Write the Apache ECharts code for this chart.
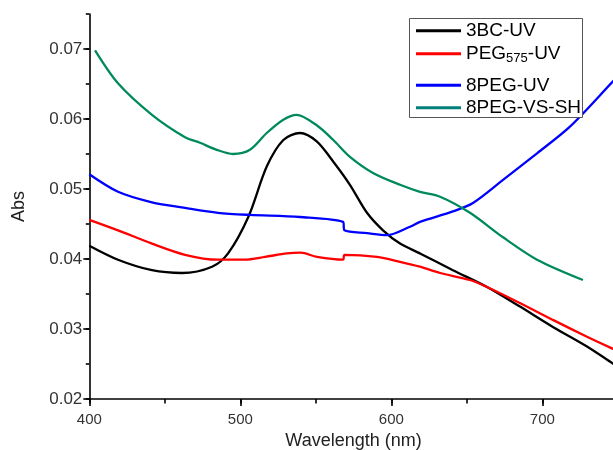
<!DOCTYPE html>
<html>
<head>
<meta charset="utf-8">
<script src="https://cdn.jsdelivr.net/npm/echarts@6/dist/echarts.min.js"></script>
<style>
html,body{margin:0;padding:0;background:#fff;}
#chart{width:613px;height:450px;}
</style>
</head>
<body>
<div id="chart"></div>
<script>
// ---- data ----
const seriesNames = ['3BC-UV', 'PEG575-UV', '8PEG-UV', '8PEG-VS-SH'];

const wl3BC  = [400, 419, 441.5, 461.4, 481.3, 491.9, 505.3, 517.5, 528.5, 539.5, 550.6, 561.6, 572.6, 583.9, 594.5, 605.8, 619, 640.8, 663.4, 685.2, 707, 729.6, 746.5, 750];
const abs3BC = [0.0419, 0.0399, 0.0384, 0.0380, 0.0389, 0.0408, 0.0460, 0.0532, 0.0570, 0.0580, 0.0568, 0.0539, 0.0506, 0.0466, 0.0441, 0.0422, 0.0408, 0.0384, 0.0360, 0.0332, 0.0303, 0.0275, 0.0251, 0.0246];

const wlPEG  = [400, 419, 441.5, 463.4, 485.2, 503.1, 516.4, 530.9, 540, 550.8, 568, 569, 590.5, 605.8, 619, 632.3, 652.1, 663.4, 685.2, 707, 729.6, 746.5, 750];
const absPEG = [0.0456, 0.0441, 0.0422, 0.0406, 0.0399, 0.0399, 0.0403, 0.0408, 0.0409, 0.0403, 0.0399, 0.0406, 0.0403, 0.0396, 0.0389, 0.0380, 0.0370, 0.0360, 0.0337, 0.0313, 0.0289, 0.0272, 0.0269];

const wl8PEG  = [400, 419, 441.5, 463.4, 485.2, 506.4, 539.5, 568, 569, 583.9, 597.1, 612.4, 619, 640.8, 654.1, 674, 696.5, 718.3, 746.5, 750];
const abs8PEG = [0.0521, 0.0496, 0.0481, 0.0473, 0.0466, 0.0463, 0.0460, 0.0453, 0.0441, 0.0437, 0.0434, 0.0446, 0.0453, 0.0468, 0.0480, 0.0513, 0.0551, 0.0589, 0.0653, 0.0661];

const wlVS  = [403.8, 419, 441.5, 463.4, 473.3, 484.4, 495.2, 506.4, 517.5, 528.5, 537.3, 550.6, 561.6, 572.6, 587.9, 605.8, 619, 632.3, 652.1, 674, 696.5, 726.9];
const absVS = [0.0698, 0.0651, 0.0606, 0.0574, 0.0566, 0.0556, 0.0550, 0.0556, 0.0580, 0.0599, 0.0606, 0.0591, 0.0570, 0.0546, 0.0523, 0.0506, 0.0496, 0.0489, 0.0466, 0.0431, 0.0399, 0.0370];

const xTicks = [400, 500, 600, 700];
const yTicks = [0.02, 0.03, 0.04, 0.05, 0.06, 0.07];

// ---- chart ----
const FONT = '"Liberation Sans", Arial, sans-serif';
const zip = (xs, ys) => xs.map((x, i) => [x, ys[i]]);
const colors = ['#000000', '#ff0000', '#0000ff', '#008a5c'];
const seriesData = [zip(wl3BC, abs3BC), zip(wlPEG, absPEG), zip(wl8PEG, abs8PEG), zip(wlVS, absVS)];

const chart = echarts.init(document.getElementById('chart'), null, {renderer: 'canvas'});

const legendTop = [21.2, 44.3, 75.8, 98.2];
const legends = seriesNames.map((n, i) => ({
  show: true,
  data: [i === 3 ? {name: n, itemStyle: {color: '#00807a'}} : n],
  left: 416,
  top: legendTop[i],
  padding: 0,
  itemWidth: 45,
  itemHeight: 3,
  icon: 'rect',
  selectedMode: false,
  zlevel: 1,
  z: 20,
  formatter: function (name) {
    if (name === 'PEG575-UV') return '{n|PEG}{s|575}{n|-UV}';
    return name;
  },
  textStyle: {
    fontFamily: FONT, fontSize: 19, color: '#000',
    rich: {
      n: {fontFamily: FONT, fontSize: 19, color: '#000'},
      s: {fontFamily: FONT, fontSize: 13, color: '#000', padding: [10, 0, 0, 0]}
    }
  }
}));

const axisLineStyle = {color: '#000', width: 1.6};

chart.setOption({
  animation: false,
  backgroundColor: '#fff',
  grid: {left: 89.3, top: 14, width: 528.5, height: 385, containLabel: false, outerBoundsMode: 'none'},
  legend: legends,
  graphic: [{
    type: 'rect', left: 409, top: 18, zlevel: 1, z: 15,
    shape: {width: 173, height: 99},
    style: {fill: '#fff', stroke: '#555', lineWidth: 1}
  }],
  xAxis: [{
    type: 'value', min: 400, max: 750, interval: 100, position: 'bottom',
    axisLine: {show: true, onZero: false, lineStyle: axisLineStyle},
    axisTick: {show: true, inside: false, length: 7, lineStyle: axisLineStyle},
    axisLabel: {
      margin: 13, fontSize: 15, color: '#333', fontFamily: FONT, showMaxLabel: false,
      formatter: v => (xTicks.indexOf(v) >= 0 ? String(v) : '')
    },
    splitLine: {show: false},
    name: 'Wavelength (nm)', nameLocation: 'middle', nameGap: 31,
    nameTextStyle: {fontSize: 18, color: '#222', fontFamily: FONT}
  }, {
    type: 'value', min: 400, max: 750, interval: 50, position: 'bottom',
    axisLine: {show: false, onZero: false},
    axisTick: {show: true, inside: false, length: 4.5, lineStyle: axisLineStyle},
    axisLabel: {show: false},
    splitLine: {show: false}
  }],
  yAxis: [{
    type: 'value', min: 0.02, max: 0.075, interval: 0.01, position: 'left',
    axisLine: {show: true, onZero: false, lineStyle: axisLineStyle},
    axisTick: {show: true, inside: false, length: 6, lineStyle: axisLineStyle},
    axisLabel: {
      margin: 7, fontSize: 17, color: '#333', fontFamily: FONT, showMaxLabel: false,
      formatter: v => {
        const t = yTicks.find(y => Math.abs(y - v) < 1e-9);
        return t !== undefined ? t.toFixed(2) : '';
      }
    },
    splitLine: {show: false},
    name: 'Abs', nameLocation: 'middle', nameGap: 61,
    nameTextStyle: {fontSize: 18, color: '#222', fontFamily: FONT}
  }, {
    type: 'value', min: 0.02, max: 0.075, interval: 0.005, position: 'left',
    axisLine: {show: false, onZero: false},
    axisTick: {show: true, inside: false, length: 3.5, lineStyle: axisLineStyle},
    axisLabel: {show: false},
    splitLine: {show: false}
  }],
  series: seriesNames.map((n, i) => ({
    name: n,
    type: 'line',
    xAxisIndex: 0,
    yAxisIndex: 0,
    data: seriesData[i],
    showSymbol: false,
    symbol: 'none',
    smooth: 0.3,
    color: colors[i],
    lineStyle: {color: colors[i], width: 2.3},
    z: 2
  }))
});
</script>
</body>
</html>
